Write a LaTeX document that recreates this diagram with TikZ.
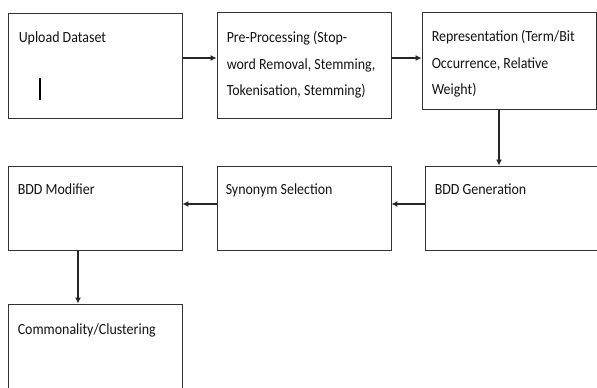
\documentclass[tikz,border=0pt]{standalone}
\usepackage{fontspec}
\setmainfont{Carlito}[FakeStretch=0.9]
\usetikzlibrary{arrows.meta}
\tikzset{
  box/.style={draw=black!80, line width=0.9pt, rectangle, inner sep=0pt, fill=white},
  txt/.style={anchor=north west, inner sep=0pt, align=left, text=black!92,
    font=\fontsize{15.5}{26.5}\selectfont},
  arr/.style={draw=black!85, line width=1.1pt, -{Latex[length=6pt,width=6pt]}}
}
\newcommand{\fs}{\rule{0pt}{20pt}}
\begin{document}
\begin{tikzpicture}[x=1pt,y=-1pt]
\useasboundingbox (0,0) rectangle (597,388);
\clip (0,0) rectangle (597,388);
% boxes
\node[box, minimum width=174pt, minimum height=105pt] (up)  at (95,65.5) {};
\node[box, minimum width=174pt, minimum height=106pt] (pre) at (304,65) {};
\node[box, minimum width=174pt, minimum height=97pt]  (rep) at (509,60.5) {};
\node[box, minimum width=174pt, minimum height=84pt]  (mod) at (95,208) {};
\node[box, minimum width=174pt, minimum height=84pt]  (syn) at (304,208) {};
\node[box, minimum width=180pt, minimum height=84pt]  (gen) at (515,208) {};
\node[box, minimum width=174pt, minimum height=96pt]  (com) at (95,352) {};
% texts
\node[txt] (tup)  at ([shift={(11,10)}]up.north west)  {\fs Upload Dataset};
\node[txt] (tpre) at ([shift={(10,11)}]pre.north west) {\fs Pre-Processing (Stop-\\word Removal, Stemming,\\Tokenisation, Stemming)};
\node[txt] (trep) at ([shift={(10,10)}]rep.north west) {\fs Representation (Term/Bit\\Occurrence, Relative\\Weight)};
\node[txt] (tmod) at ([shift={(10,9)}]mod.north west)  {\fs BDD Modifier};
\node[txt] (tsyn) at ([shift={(9,9)}]syn.north west)   {\fs Synonym Selection};
\node[txt] (tgen) at ([shift={(10,9)}]gen.north west)  {\fs BDD Generation};
\node[txt] (tcom) at ([shift={(10,11)}]com.north west) {\fs Commonality/Clustering};
% cursor mark
\coordinate (c1) at (40,78);
\coordinate (c2) at (40,100);
\draw[line width=1.6pt, black] (c1) -- (c2);
% connectors
\draw[arr] ([yshift=7.5pt]up.east) -- ([yshift=7.5pt]up.east -| pre.west);
\draw[arr] ([yshift=7pt]pre.east) -- ([yshift=7pt]pre.east -| rep.west);
\draw[arr] ([xshift=-10pt]rep.south) -- ([xshift=-10pt]rep.south |- gen.north);
\draw[arr] ([yshift=4pt]gen.west) -- ([yshift=4pt]gen.west -| syn.east);
\draw[arr] ([yshift=4pt]syn.west) -- ([yshift=4pt]syn.west -| mod.east);
\draw[arr] ([xshift=-17pt]mod.south) -- ([xshift=-17pt]mod.south |- com.north);
\end{tikzpicture}
\end{document}
